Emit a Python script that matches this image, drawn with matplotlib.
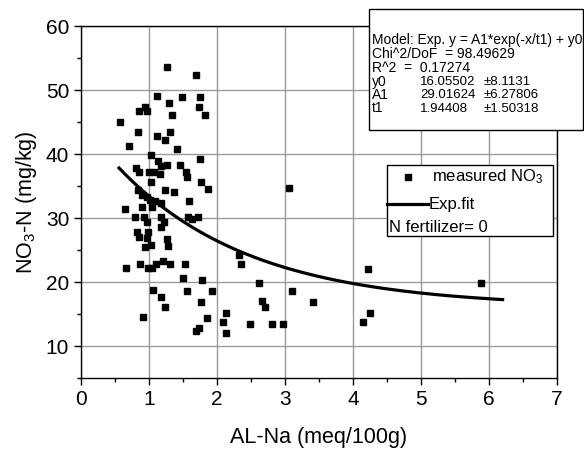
import numpy as np
import matplotlib.pyplot as plt
from matplotlib.patches import Rectangle
from matplotlib.lines import Line2D

plt.rcParams['font.family'] = ['Liberation Sans', 'DejaVu Sans']
plt.rcParams['mathtext.fontset'] = 'custom'
plt.rcParams['mathtext.rm'] = 'Liberation Sans'
plt.rcParams['mathtext.it'] = 'Liberation Sans'

# measured NO3-N vs AL-Na
al_na = [1.264, 1.688, 1.113, 1.479, 1.747, 1.293, 0.947, 0.854, 0.977, 1.732,
         1.820, 1.343, 0.575, 0.835, 1.307, 1.113, 1.234, 0.707, 1.406, 1.035,
         1.747, 1.127, 0.805, 1.171, 1.269, 1.454, 0.849, 0.996, 1.073, 1.161,
         1.542, 1.562, 1.029, 1.767, 1.864, 1.234, 1.372, 0.845, 0.898, 0.966,
         1.020, 1.088, 1.586, 1.182, 0.898, 1.050, 0.649, 0.791, 0.927, 1.171,
         1.577, 1.723, 0.966, 1.220, 1.171, 0.830, 0.991, 0.854, 0.966, 1.269,
         1.284, 1.025, 0.947, 1.625, 1.211, 1.108, 1.307, 0.868, 0.669, 0.991,
         1.040, 1.527, 1.498, 1.776, 1.059, 1.176, 1.552, 1.922, 1.240, 1.761,
         0.918, 1.855, 1.742, 1.688, 2.318, 2.347, 2.621, 3.108, 3.416, 2.669,
         2.704, 2.133, 2.083, 2.133, 2.485, 2.811, 2.972, 3.060, 4.217, 4.246,
         4.148, 5.876]
no3_n = [53.55, 52.39, 49.02, 48.86, 48.86, 47.97, 47.34, 46.72, 46.72, 47.30,
         46.14, 46.14, 45.00, 43.39, 43.39, 42.81, 42.19, 41.25, 40.73, 39.92,
         39.22, 38.95, 37.86, 38.17, 38.28, 38.28, 37.14, 37.14, 37.14, 36.83,
         37.14, 36.40, 35.62, 35.62, 34.61, 34.33, 34.06, 34.33, 33.59, 33.33,
         32.77, 32.70, 32.66, 32.30, 31.67, 31.67, 31.36, 30.20, 30.20, 30.20,
         30.11, 30.11, 29.42, 29.42, 28.59, 27.81, 27.81, 26.98, 26.83, 26.67,
         25.58, 25.78, 25.42, 29.89, 23.33, 22.81, 22.81, 22.81, 22.14, 22.14,
         22.14, 22.76, 20.62, 20.31, 18.75, 17.70, 18.59, 18.59, 16.09, 16.83,
         14.48, 14.37, 12.86, 12.30, 24.22, 22.76, 19.84, 18.59, 16.92, 17.03,
         16.04, 15.11, 13.79, 12.03, 13.48, 13.48, 13.48, 34.73, 21.98, 15.11,
         13.79, 19.84]

# fit parameters shown in the box
y0, A1, t1 = 16.05502, 29.01624, 1.94408
fit_range = [0.56, 6.2]

fig = plt.figure(figsize=(5.84, 4.5), dpi=100)
ax = fig.add_axes([0.1387, 0.16, 0.8151, 0.7822])

ax.grid(True, color='#9a9a9a', linewidth=1.0)
ax.set_axisbelow(True)

xf = np.linspace(fit_range[0], fit_range[1], 200)
ax.plot(xf, y0 + A1 * np.exp(-xf / t1), color='black', linewidth=2.3, zorder=3)
ax.plot(al_na, no3_n, 's', color='black', markersize=5, zorder=4)

ax.set_xlim(0, 7)
ax.set_ylim(5, 60)
ax.set_xticks(range(0, 8))
ax.set_yticks([10, 20, 30, 40, 50, 60])
ax.set_xticks(np.arange(0.5, 7, 1), minor=True)
ax.set_yticks(np.arange(5, 60, 5), minor=True)
ax.tick_params(which='both', direction='out', labelsize=15)
ax.tick_params(which='major', length=5, width=1)
ax.tick_params(which='minor', length=3, width=1)
for s in ax.spines.values():
    s.set_linewidth(1.0)

ax.set_xlabel('AL-Na (meq/100g)', fontsize=15.5, labelpad=13)
ax.set_ylabel('NO$_3$-N (mg/kg)', fontsize=15.5, labelpad=5)

# legend box
W, H = 584.0, 450.0
def fx(px):
    return px / W
def fy(py):
    return 1 - py / H

fig.patches.append(Rectangle((fx(387), fy(236)), fx(553) - fx(387), fy(165) - fy(236),
                             transform=fig.transFigure, facecolor='white',
                             edgecolor='black', linewidth=1, zorder=5))
fig.add_artist(Line2D([fx(408)], [fy(177)], marker='s', color='black', markersize=5,
                      transform=fig.transFigure, zorder=6))
fig.text(fx(432), fy(177), 'measured NO$_3$', fontsize=12, va='center', zorder=6)
fig.add_artist(Line2D([fx(387), fx(428)], [fy(204), fy(204)], color='black',
                      linewidth=2.3, transform=fig.transFigure, zorder=6))
fig.text(fx(429), fy(204), 'Exp.fit', fontsize=12, va='center', zorder=6)
fig.text(fx(389), fy(227), 'N fertilizer= 0', fontsize=12, va='center', zorder=6)

# fit result box
fig.patches.append(Rectangle((fx(369), fy(130)), fx(583) - fx(369), fy(9) - fy(130),
                             transform=fig.transFigure, facecolor='white',
                             edgecolor='black', linewidth=1, zorder=5))
rows = [('Model: Exp. y = A1*exp(-x/t1) + y0', '', ''),
        ('Chi^2/DoF  = 98.49629', '', ''),
        ('R^2  =  0.17274', '', ''),
        ('y0', '16.05502', '±8.1131'),
        ('A1', '29.01624', '±6.27806'),
        ('t1', '1.94408', '±1.50318')]
row_y = [40, 54.5, 68, 82, 95, 108.5]
for (a, b, c), py in zip(rows, row_y):
    fig.text(fx(372), fy(py), a, fontsize=10, va='center', zorder=6)
    if b:
        fig.text(fx(420), fy(py), b, fontsize=9.5, va='center', zorder=6)
        fig.text(fx(484), fy(py), c, fontsize=9.5, va='center', zorder=6)

fig.savefig('out.png', dpi=100)
